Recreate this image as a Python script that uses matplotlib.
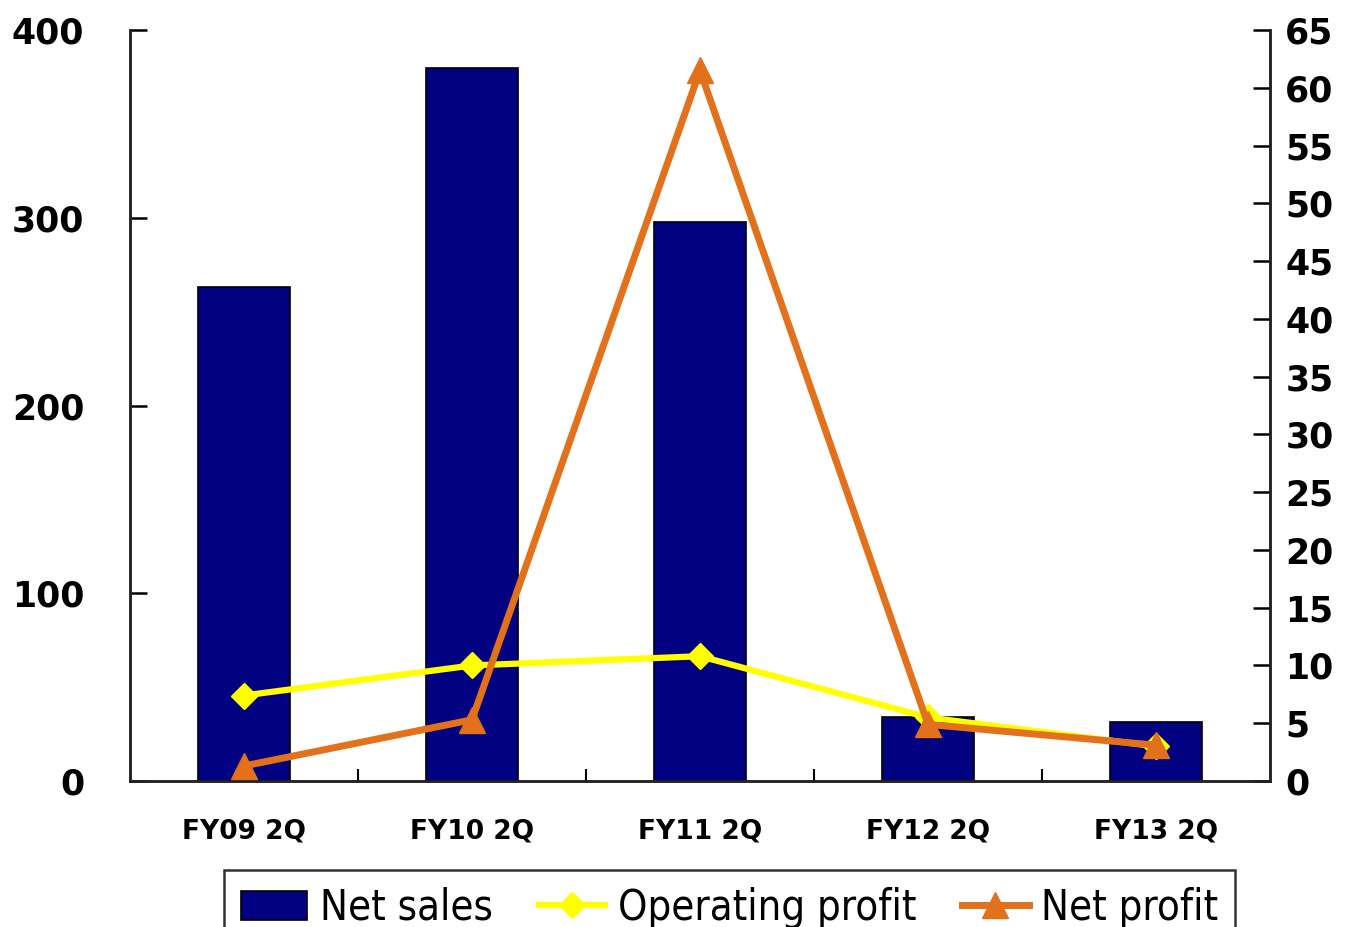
import matplotlib.pyplot as plt
import numpy as np

# half-year results (2Q), sales on left axis, profits on right axis
quarters = ["FY09 2Q", "FY10 2Q", "FY11 2Q", "FY12 2Q", "FY13 2Q"]
net_sales = [263, 380, 298, 34, 31.5]
operating_profit = [7.4, 10.0, 10.8, 5.5, 3.0]
net_profit = [1.3, 5.3, 61.5, 4.9, 3.1]

navy = "#000080"
yellow = "#FFFF00"
orange = "#E3701A"

fig = plt.figure(figsize=(13.5, 9.27), dpi=100)
ax = fig.add_axes([130/1350, 1-781/927, 1140/1350, 751/927])
ax2 = ax.twinx()

x = np.arange(len(quarters))
bars = ax.bar(x, net_sales, width=0.4, color=navy, edgecolor="black",
              linewidth=1.2, label="Net sales", zorder=2)
ln1, = ax2.plot(x, operating_profit, color=yellow, lw=4.5, marker="D", ms=13,
                label="Operating profit", zorder=3)
ln2, = ax2.plot(x, net_profit, color=orange, lw=5, marker="^", ms=19,
                label="Net profit", zorder=4)

ax.set_xlim(-0.5, len(quarters) - 0.5)
ax.set_ylim(0, 400)
ax.set_yticks([0, 100, 200, 300, 400])
ax2.set_ylim(0, 65)
ax2.set_yticks(range(0, 66, 5))

# category ticks sit between the groups
ax.set_xticks(x)
ax.set_xticklabels(quarters, fontsize=19, fontweight="bold")
ax.tick_params(axis="x", length=0, pad=27)
ax.set_xticks(np.arange(0.5, len(quarters) - 1, 1), minor=True)
ax.tick_params(axis="x", which="minor", direction="in", length=9, width=1.5)

ax.tick_params(axis="y", direction="in", length=12, width=1.8, pad=33,
               labelsize=25)
ax2.tick_params(axis="y", direction="in", length=12, width=1.8, pad=11,
                labelsize=25)
for t in ax.get_yticklabels() + ax2.get_yticklabels():
    t.set_fontweight("bold")

for a in (ax, ax2):
    a.spines["top"].set_visible(False)
    for s in ("left", "right", "bottom"):
        a.spines[s].set_linewidth(1.8)
        a.spines[s].set_color("#222222")
ax.set_zorder(ax2.get_zorder() - 1)
ax2.patch.set_visible(False)

leg = fig.legend([bars, ln1, ln2], ["Net sales", "Operating profit", "Net profit"],
                 loc="upper center", bbox_to_anchor=(729.5/1350, 1-870/927),
                 ncol=3, frameon=True, fancybox=False, edgecolor="black",
                 prop={"family": "DejaVu Sans", "stretch": "condensed", "size": 30},
                 handlelength=1.6, handletextpad=0.3, columnspacing=1.1,
                 borderpad=0.4, borderaxespad=0)
leg.get_frame().set_linewidth(1.8)

fig.savefig("out.png", dpi=100)
